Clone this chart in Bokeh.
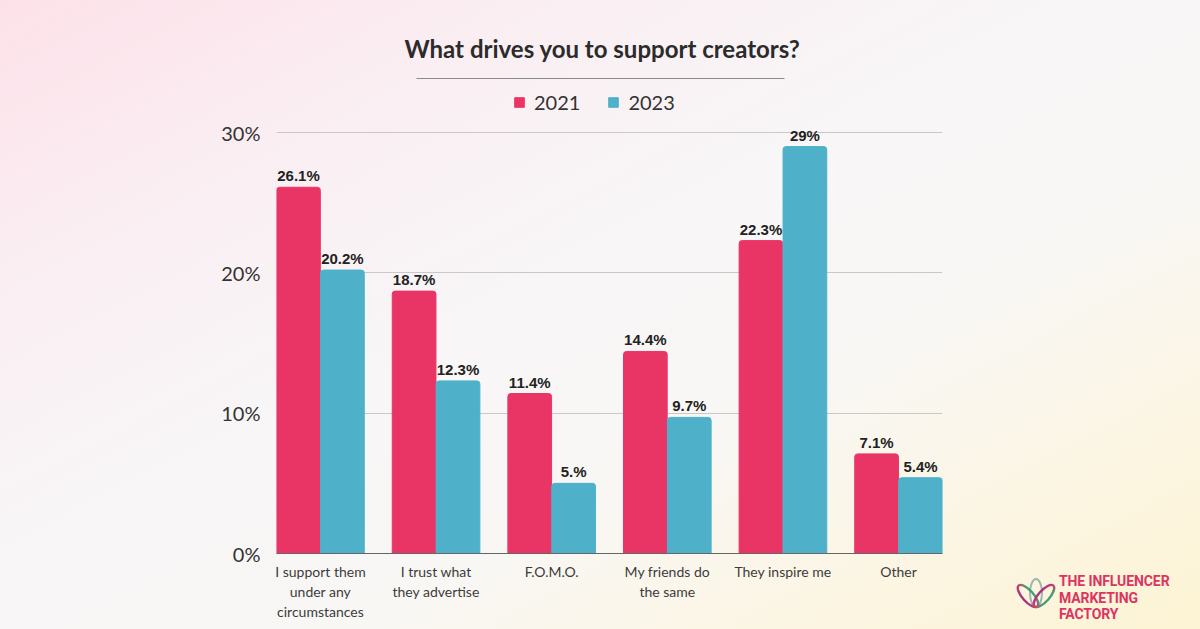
from bokeh.plotting import figure
from bokeh.models import (ColumnDataSource, Range1d, FixedTicker, Legend, LegendItem,
                          Label, BoxAnnotation, Div)
from bokeh.layouts import column, row
from bokeh.core.properties import value
from bokeh.embed import file_html
from bokeh.resources import INLINE

# ---------------- data ----------------
categories = ["I support them\nunder any\ncircumstances", "I trust what\nthey advertise",
              "F.O.M.O.", "My friends do\nthe same", "They inspire me", "Other"]
values_2021 = [26.1, 18.7, 11.4, 14.4, 22.3, 7.1]
values_2023 = [20.2, 12.3, 5.0, 9.7, 29.0, 5.4]
labels_2021 = ["26.1%", "18.7%", "11.4%", "14.4%", "22.3%", "7.1%"]
labels_2023 = ["20.2%", "12.3%", "5.%", "9.7%", "29%", "5.4%"]
series_names = ["2021", "2023"]
y_ticks = [0, 10, 20, 30]
y_tick_labels = ["0%", "10%", "20%", "30%"]
title_text = "What drives you to support creators?"
logo_lines = ["THE INFLUENCER", "MARKETING", "FACTORY"]

RED = "#e93566"
BLUE = "#4eb1c9"
OFF = 0.19
BW = 0.378

# ---------------- header (title + rule) ----------------
head = figure(width=1200, height=88, output_backend="svg", toolbar_location=None,
              x_range=Range1d(0, 1200), y_range=Range1d(88, 0),
              x_axis_type=None, y_axis_type=None, min_border=0)
head.border_fill_alpha = 0
head.background_fill_alpha = 0
head.outline_line_color = None
head.add_layout(Label(x=602, y=48, x_units="canvas", y_units="canvas", text=title_text,
                      text_align="center", text_baseline="middle", text_font="Lato",
                      text_font_style="bold", text_font_size="24px", text_color="#2b2b2b"))
head.add_layout(BoxAnnotation(left=416, right=784, top=77.5, bottom=78.5,
                              left_units="canvas", right_units="canvas",
                              top_units="canvas", bottom_units="canvas",
                              fill_color="#8a8a8a", fill_alpha=1, line_color=None))

# ---------------- main chart ----------------
pos = list(range(len(categories)))
src21 = ColumnDataSource(dict(x=[q - OFF for q in pos], top=values_2021, lab=labels_2021))
src23 = ColumnDataSource(dict(x=[q + OFF for q in pos], top=values_2023, lab=labels_2023))

p = figure(width=1000, height=541, output_backend="svg", toolbar_location=None,
           x_range=Range1d(-0.38, 5.38), y_range=Range1d(0, 33.14),
           min_border_left=276, min_border_right=58, min_border_top=0, min_border_bottom=76)
p.border_fill_alpha = 0
p.background_fill_alpha = 0
p.outline_line_color = None

r21 = p.vbar(x="x", top="top", width=BW, source=src21, color=RED, border_radius=(3, 3, 0, 0))
r23 = p.vbar(x="x", top="top", width=BW, source=src23, color=BLUE, border_radius=(3, 3, 0, 0))

for s in (src21, src23):
    p.text(x="x", y="top", text="lab", source=s, text_align="center", text_baseline="bottom",
           y_offset=-3, text_font=value("Liberation Sans"), text_font_style="bold",
           text_font_size="15px", text_color="#222222")

p.xaxis.ticker = FixedTicker(ticks=pos)
p.xaxis.major_label_overrides = {i: c for i, c in enumerate(categories)}
p.xaxis.major_label_text_font = "Lato"
p.xaxis.major_label_text_font_size = "14px"
p.xaxis.major_label_text_color = "#3c3c3c"
p.xaxis.major_label_standoff = 3
p.xaxis.major_tick_line_color = None
p.xaxis.minor_tick_line_color = None
p.xaxis.axis_line_color = "#666666"

p.yaxis.ticker = FixedTicker(ticks=y_ticks)
p.yaxis.major_label_overrides = {t: l for t, l in zip(y_ticks, y_tick_labels)}
p.yaxis.major_label_text_font = "Lato"
p.yaxis.major_label_text_font_size = "20px"
p.yaxis.major_label_text_color = "#333333"
p.yaxis.major_label_standoff = 10
p.yaxis.major_tick_line_color = None
p.yaxis.minor_tick_line_color = None
p.yaxis.axis_line_color = None

p.xgrid.grid_line_color = None
p.ygrid.grid_line_color = "#c9c9c9"
p.ygrid.grid_line_width = 1

legend = Legend(items=[LegendItem(label=series_names[0], renderers=[r21]),
                       LegendItem(label=series_names[1], renderers=[r23])],
                orientation="horizontal", location=(237, 439),
                label_text_font="Lato", label_text_font_size="20px", label_text_color="#333333",
                glyph_width=12, glyph_height=12, label_standoff=9, spacing=27,
                padding=0, margin=0, border_line_color=None, background_fill_alpha=0)
p.add_layout(legend, "center")

# ---------------- logo panel ----------------
lotus_svg = (
    '<svg width="42" height="36" viewBox="0 0 42 36" style="position:absolute;left:15px;top:488px">'
    '<defs><linearGradient id="lg" x1="0" y1="0" x2="1" y2="0">'
    '<stop offset="0" stop-color="#a8327f"/><stop offset="0.5" stop-color="#d4406a"/>'
    '<stop offset="1" stop-color="#35a67a"/></linearGradient></defs>'
    '<ellipse cx="21" cy="17" rx="6" ry="14" fill="none" stroke="#9ab7b2" stroke-width="2"/>'
    '<ellipse cx="13" cy="20" rx="5.5" ry="14" transform="rotate(-42 13 20)" fill="none" '
    'stroke="url(#lg)" stroke-width="2.4"/>'
    '<ellipse cx="29" cy="20" rx="5.5" ry="14" transform="rotate(42 29 20)" fill="none" '
    'stroke="url(#lg)" stroke-width="2.4"/>'
    '</svg>'
)
logo_divs = "".join(
    '<div style="position:absolute;left:59px;top:%.1fpx;height:16.5px;font-family:Roboto;'
    'font-weight:700;font-size:14px;line-height:16.5px;letter-spacing:-0.1px;'
    'color:#dc3461;white-space:nowrap;">%s</div>' % (485 + 16.5 * i, t)
    for i, t in enumerate(logo_lines))
side = Div(width=200, height=541, margin=0,
           text=('<div style="position:relative;width:200px;height:541px;">' + lotus_svg +
                 logo_divs + '</div>'))

layout = column(head, row(p, side, spacing=0), spacing=0, width=1200, height=629)
layout.styles = {"background": "linear-gradient(to bottom right, #fde1e9 0%, #faeef2 22%, #f8f6f7 45%, #f9f7f4 65%, #fcf5e1 85%, #fdf4d4 100%)"}

open("out.html", "w").write(file_html(layout, INLINE))
